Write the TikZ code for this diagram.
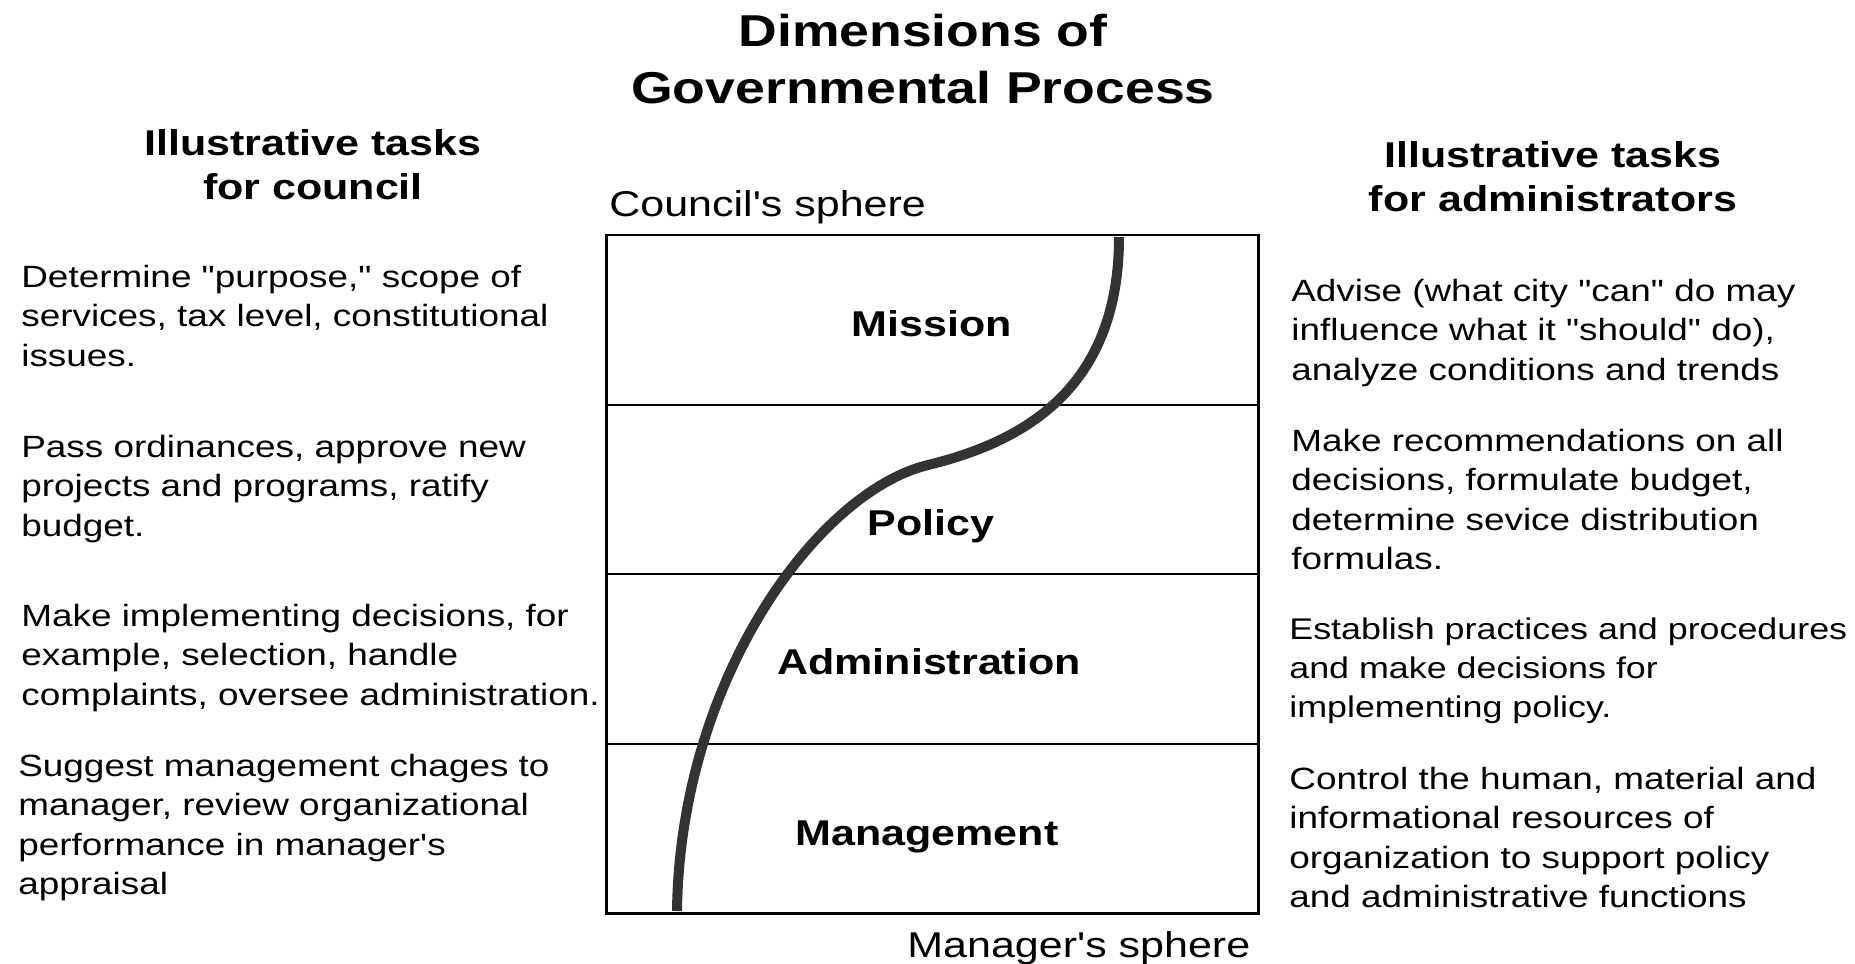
\documentclass[tikz,border=0pt]{standalone}
\usepackage{fontspec}
\setmainfont[FakeStretch=1.2, Ligatures=TeXOff]{Liberation Sans}
\usepackage{tikz}
\usetikzlibrary{positioning}
\tikzset{
  tasktext/.style={anchor=north west, inner sep=0pt, align=left, font=\fontsize{17.5}{22.4}\selectfont},
  headtext/.style={anchor=north, inner sep=0pt, align=center, font=\bfseries\fontsize{20.4}{25}\selectfont},
  levellabel/.style={anchor=base, inner sep=0pt, font=\bfseries\fontsize{20.4}{25}\selectfont},
  spheretext/.style={anchor=base west, inner sep=0pt, font=\fontsize{20.4}{25}\selectfont}
}

\begin{document}
\begin{tikzpicture}[x=0.02cm, y=-0.02cm]
			%%%%% START %%%%%
			\useasboundingbox (0, 0) rectangle (1855, 963);
			
			\node[anchor=north, inner sep=0pt, align=center, font=\bfseries\fontsize{25.4}{32.3}\selectfont] (title) at (923, 14) {Dimensions of\\Governmental Process};
			
			\node[headtext] (headcouncil) at (313, 129) {Illustrative tasks\\for council};
			\node[headtext] (headadmin) at (1553, 141) {Illustrative tasks\\for administrators};
			
			\node[spheretext] (councilsphere) at (609, 216) {Council's sphere};
			\node[spheretext] (managersphere) at (907, 957) {Manager's sphere};
			
			% box with the four levels
			\draw[line width=1.7pt] (606, 235) rectangle (1258, 913);
			\draw[line width=1.5pt] (606, 405) -- (1258, 405);
			\draw[line width=1.5pt] (606, 574) -- (1258, 574);
			\draw[line width=1.5pt] (606, 744) -- (1258, 744);
			
			\node[levellabel] (mission) at (932, 336) {Mission};
			\node[levellabel] (policy) at (931, 535) {Policy};
			\node[levellabel] (administration) at (929, 674) {Administration};
			\node[levellabel] (management) at (927, 845) {Management};
			
			% the dividing curve
			\draw[line width=5.7pt, color=black!80] (1119, 237) .. controls (1119, 390) and (1022, 442) .. (928, 465)
			  .. controls (817, 492) and (680, 680) .. (677, 911);
			
			% tasks for council
			\node[tasktext] (council1) at (21, 265) {Determine "purpose," scope of\\services, tax level, constitutional\\issues.};
			\node[tasktext] (council2) at (21, 435) {Pass ordinances, approve new\\projects and programs, ratify\\budget.};
			\node[tasktext] (council3) at (21, 604) {Make implementing decisions, for\\example, selection, handle\\complaints, oversee administration.};
			\node[tasktext] (council4) at (18, 754) {Suggest management chages to\\manager, review organizational\\performance in manager's\\appraisal};
			
			% tasks for administrators
			\node[tasktext] (admin1) at (1291, 279) {Advise (what city "can" do may\\influence what it "should" do),\\analyze conditions and trends};
			\node[tasktext] (admin2) at (1291, 429) {Make recommendations on all\\decisions, formulate budget,\\determine sevice distribution\\formulas.};
			\node[tasktext, font=\fontsize{17}{22.4}\selectfont] (admin3) at (1289, 617) {Establish practices and procedures\\and make decisions for\\implementing policy.};
			\node[tasktext] (admin4) at (1289, 767) {Control the human, material and\\informational resources of\\organization to support policy\\and administrative functions};
			
			%%%%% END %%%%%
\end{tikzpicture}
\end{document}
